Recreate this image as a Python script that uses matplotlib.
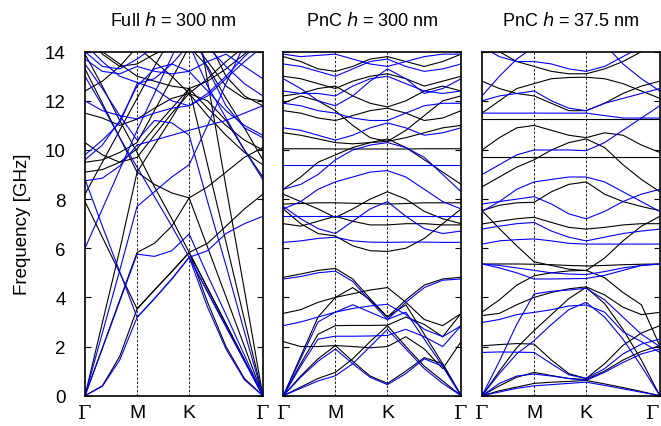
import numpy as np
import matplotlib.pyplot as plt

plt.rcParams['font.family'] = ['Liberation Sans', 'DejaVu Sans']

# k path: G - M - K - G, sampled at 11 points
L = np.sqrt(2)
kpts = [0, 1/3, 2/3, 1, 4/3, 5/3, 2, 2 + L/4, 2 + L/2, 2 + 3*L/4, 2 + L]
klabels = ['Γ', 'M', 'K', 'Γ']
titles = ["Full $h$ = 300 nm", "PnC $h$ = 300 nm", "PnC $h$ = 37.5 nm"]
nan = np.nan

# ---- panel 1: full plate h = 300 nm ----
full_black = [
    [0, 0.4, 1.6, 3.53, 4.3, 5.05, 5.83, 3.8, 2.0, 0.7, 0],
    [7.9, 6.45, 5.0, 3.53, 4.3, 5.05, 5.83, 4.37, 2.92, 1.46, 0],
    [0, 1.94, 3.89, 5.83, 6.2, 6.9, 8.05, 6.04, 4.03, 2.01, 0],
    [0, 2.97, 5.93, 9.1, 8.6, 8.25, 8.05, 8.5, 9.1, 9.7, 10.1],
    [13.9, 12.6, 11.2, 9.9, 8.5, 7.2, 5.83, 4.37, 2.92, 1.46, 0],
    [nan, nan, nan, nan, nan, nan, 17.0, 12.8, 8.5, 4.3, 0],
    [nan, nan, nan, nan, nan, nan, 5.83, 6.2, 6.9, 7.6, 8.2],
    [9.1, 9.2, 9.5, 10.05, 10.9, 11.7, 12.5, 11.7, 11.0, 10.4, 10.0],
    [13.3, 11.9, 10.5, 9.1, 10.2, 11.3, 12.5, 9.4, 6.25, 3.1, 0],
    [9.5, 9.6, 9.9, 10.3, 11.6, 12.9, 14.2, 13.4, 12.1, 10.9, 9.6],
    [11.5, 11.3, 11.0, 11.26, 11.7, 12.1, 12.3, 12.0, 11.2, 10.0, 8.9],
    [14.5, 14.0, 13.5, 13.0, 12.8, 12.6, 12.5, 12.8, 13.3, 13.9, 14.5],
    [8.2, 9.5, 10.8, 12.1, 13.4, 14.6, 15.8, 14.5, 13.0, 12.2, 11.8],
    [14.8, 13.9, 13.4, 13.5, 13.9, 14.2, 14.6, 13.6, 12.6, 12.1, 12.0],
    [12.4, 12.8, 13.4, 14.2, 13.6, 13.0, 12.3, 12.9, 13.6, 14.2, 14.8],
    [10.3, 9.8, 9.5, 9.7, 10.6, 11.5, 12.3, 11.4, 10.6, 9.9, 9.4],
]
full_blue = [
    [0, 0.38, 1.45, 3.19, 3.95, 4.75, 5.63, 3.6, 1.9, 0.65, 0],
    [8.8, 6.9, 5.05, 3.19, 3.95, 4.75, 5.63, 4.22, 2.81, 1.41, 0],
    [0, 1.92, 3.84, 5.76, 5.67, 5.9, 6.58, 4.9, 3.3, 1.65, 0],
    [0, 2.55, 5.1, 7.7, 8.3, 8.9, 9.4, 11.0, 12.7, 14.3, 15.9],
    [13.0, 11.8, 10.5, 9.3, 8.1, 6.9, 5.63, 4.22, 2.81, 1.41, 0],
    [13.5, 12.5, 11.4, 10.4, 11.2, 11.1, 10.6, 7.9, 5.3, 2.6, 0],
    [nan, nan, nan, nan, nan, nan, 5.63, 5.9, 6.6, 7.0, 7.3],
    [8.75, 8.85, 9.35, 10.2, 10.4, 10.6, 10.8, 11.0, 11.2, 11.5, 11.8],
    [12.0, 11.6, 11.4, 11.26, 11.5, 11.7, 11.8, 12.2, 12.9, 13.6, 14.2],
    [13.7, 13.2, 13.1, 13.4, 13.2, 13.1, 13.2, 13.6, 13.9, 13.4, 12.9],
    [9.8, 10.4, 11.1, 12.7, 12.9, 13.5, 14.3, 12.6, 11.3, 10.0, 8.8],
    [14.3, 13.6, 13.0, 12.75, 12.5, 12.0, 11.8, 12.3, 13.0, 13.8, 14.5],
    [6.0, 7.6, 9.2, 10.8, 12.3, 13.8, 15.3, 13.3, 11.8, 10.9, 10.5],
    [9.6, 10.2, 11.2, 12.6, 13.3, 13.5, 13.2, 12.4, 11.6, 11.0, 10.6],
    [14.0, 13.4, 13.3, 13.7, 14.2, 14.5, 14.8, 14.2, 13.4, 12.7, 12.2],
]

# ---- panel 2: PnC h = 300 nm ----
pnc300_black = [
    [0, 0.35, 0.7, 0.95, 1.5, 2.2, 2.85, 2.0, 1.2, 0.6, 0],
    [0, 0.8, 1.5, 2.04, 1.4, 0.8, 0.5, 1.0, 1.55, 1.3, 0],
    [0, 1.3, 2.5, 2.85, 2.86, 2.86, 2.87, 3.2, 2.9, 2.4, 3.35],
    [3.35, 3.5, 3.8, 4.0, 4.15, 4.3, 4.4, 3.8, 3.1, 2.85, 3.35],
    [0, 1.6, 3.2, 4.0, 4.4, 3.9, 3.2, 3.7, 2.5, 1.3, 0],
    [4.82, 4.95, 5.1, 5.18, 4.75, 3.95, 3.2, 3.9, 4.5, 4.75, 4.82],
    [2.2, 2.0, 2.0, 2.04, 2.0, 1.95, 2.0, 2.4, 1.9, 1.1, 2.2],
    [7.6, 7.0, 6.6, 6.5, 6.1, 5.9, 5.87, 6.0, 6.4, 7.0, 7.6],
    [7.0, 6.9, 7.1, 7.3, 7.1, 6.95, 6.95, 7.0, 7.0, 6.95, 6.95],
    [7.8, 7.82, 7.85, 7.85, 7.83, 7.82, 7.8, 7.82, 7.85, 7.85, 7.85],
    [8.2, 7.9, 7.6, 7.25, 7.6, 8.0, 8.3, 8.0, 7.5, 7.2, 7.0],
    [8.4, 8.9, 9.5, 9.8, 10.1, 10.3, 10.45, 10.1, 9.6, 9.1, 8.6],
    [10.05, 10.05, 10.05, 10.04, 10.04, 10.04, 10.04, 10.04, 10.05, 10.05, 10.05],
    [10.7, 10.6, 10.45, 10.3, 10.25, 10.3, 10.35, 10.5, 10.7, 10.9, 11.0],
    [11.6, 11.5, 11.3, 11.2, 11.4, 11.6, 11.7, 11.5, 11.2, 11.3, 11.6],
    [12.2, 12.3, 12.5, 12.6, 12.2, 11.9, 11.75, 12.0, 12.4, 12.6, 12.4],
    [13.0, 12.9, 12.7, 12.5, 12.8, 13.0, 13.1, 12.9, 12.6, 12.8, 13.0],
    [13.8, 13.6, 13.3, 13.2, 13.4, 13.7, 13.8, 13.6, 13.4, 13.6, 13.9],
    [11.9, 12.2, 12.0, 11.6, 11.0, 10.5, 10.35, 10.8, 11.4, 12.0, 12.2],
]
pnc300_blue = [
    [0, 0.3, 0.6, 0.81, 1.3, 2.0, 2.7, 1.9, 1.1, 0.5, 0],
    [0, 0.75, 1.4, 1.9, 1.3, 0.75, 0.45, 0.9, 1.5, 1.2, 0],
    [0, 1.2, 2.3, 2.42, 2.42, 2.43, 2.45, 2.7, 2.4, 2.0, 2.85],
    [2.85, 3.0, 3.2, 3.4, 3.55, 3.65, 3.72, 3.3, 2.7, 2.4, 2.85],
    [0, 1.5, 3.0, 3.4, 3.7, 3.4, 3.1, 3.4, 2.3, 1.2, 0],
    [4.75, 4.85, 5.0, 5.07, 4.65, 3.85, 3.1, 3.8, 4.4, 4.7, 4.75],
    [6.24, 6.3, 6.4, 6.45, 6.3, 6.25, 6.24, 6.25, 6.25, 6.24, 6.24],
    [7.33, 7.33, 7.33, 7.33, 7.33, 7.33, 7.33, 7.33, 7.33, 7.33, 7.33],
    [7.7, 7.2, 6.8, 6.6, 7.1, 7.6, 7.9, 7.3, 6.8, 6.6, 6.7],
    [7.6, 7.9, 8.4, 8.7, 8.9, 9.1, 9.16, 8.9, 8.4, 7.9, 7.6],
    [9.4, 9.4, 9.4, 9.4, 9.4, 9.4, 9.4, 9.4, 9.4, 9.4, 9.4],
    [8.4, 8.6, 9.0, 9.6, 10.0, 10.2, 10.3, 10.1, 9.7, 9.0, 8.3],
    [10.9, 10.8, 10.6, 10.4, 10.6, 10.9, 11.1, 10.9, 10.6, 10.7, 10.9],
    [11.9, 11.8, 11.6, 11.5, 11.3, 11.2, 11.2, 11.5, 11.8, 11.9, 11.9],
    [12.4, 12.3, 12.3, 12.2, 12.6, 12.9, 13.0, 12.7, 12.4, 12.3, 12.4],
    [13.5, 13.4, 13.2, 13.0, 13.3, 13.6, 13.7, 13.4, 13.2, 13.3, 13.5],
    [13.9, 13.8, 13.85, 13.9, 13.7, 13.5, 13.4, 13.6, 13.8, 13.9, 13.9],
    [12.9, 12.5, 12.0, 11.8, 12.2, 12.8, 13.3, 12.9, 12.3, 12.5, 12.9],
]

# ---- panel 3: PnC h = 37.5 nm ----
pnc37_black = [
    [0, 0.2, 0.35, 0.5, 0.55, 0.58, 0.62, 0.48, 0.33, 0.17, 0],
    [0, 0.4, 0.75, 0.95, 0.82, 0.7, 0.66, 1.0, 1.45, 1.8, 2.03],
    [2.03, 2.08, 2.12, 2.1, 1.45, 0.9, 0.7, 1.3, 2.05, 2.55, 2.85],
    [0, 1.0, 1.95, 2.65, 3.3, 3.95, 4.41, 3.75, 2.7, 1.45, 0],
    [3.26, 3.35, 3.7, 4.0, 4.2, 4.35, 4.43, 4.1, 3.6, 3.3, 3.39],
    [3.4, 3.9, 4.5, 4.88, 5.0, 5.08, 5.1, 4.8, 4.2, 3.7, 2.03],
    [5.36, 5.36, 5.36, 5.35, 5.33, 5.3, 5.28, 5.3, 5.33, 5.35, 5.36],
    [7.53, 6.8, 6.1, 5.45, 5.3, 5.15, 5.09, 5.6, 6.3, 6.9, 7.3],
    [6.99, 7.1, 7.2, 7.26, 7.05, 6.85, 6.78, 6.85, 6.95, 7.0, 7.0],
    [7.53, 7.75, 7.85, 7.87, 8.3, 8.6, 8.7, 8.2, 7.9, 7.7, 7.53],
    [9.73, 9.73, 9.73, 9.73, 9.73, 9.73, 9.73, 9.73, 9.73, 9.73, 9.73],
    [8.5, 8.9, 9.3, 9.6, 10.0, 10.3, 10.45, 10.1, 9.4, 8.8, 8.3],
    [11.26, 11.26, 11.26, 11.26, 11.26, 11.26, 11.26, 11.26, 11.26, 11.26, 11.26],
    [12.8, 12.5, 12.3, 12.2, 11.9, 11.6, 11.6, 11.9, 12.3, 12.6, 12.8],
    [11.5, 12.0, 12.5, 12.7, 12.9, 12.95, 12.96, 12.9, 12.7, 12.4, 12.1],
    [14.5, 14.0, 13.6, 13.4, 13.2, 13.1, 13.1, 13.3, 13.6, 14.0, 14.4],
    [10.0, 10.5, 10.9, 11.0, 10.8, 10.6, 10.5, 10.7, 10.6, 10.2, 9.9],
]
pnc37_blue = [
    [0, 0.15, 0.3, 0.4, 0.45, 0.5, 0.55, 0.42, 0.28, 0.14, 0],
    [0, 0.5, 0.8, 0.88, 0.8, 0.7, 0.62, 0.95, 1.35, 1.7, 1.9],
    [1.76, 1.78, 1.77, 1.76, 1.3, 0.85, 0.7, 1.1, 1.7, 2.1, 2.3],
    [0, 0.9, 1.7, 2.24, 2.9, 3.5, 3.8, 3.2, 2.3, 1.2, 0],
    [2.98, 3.1, 3.3, 3.39, 3.5, 3.65, 3.69, 3.4, 2.6, 2.2, 1.76],
    [0, 1.4, 2.9, 4.14, 4.25, 4.3, 4.37, 3.9, 3.2, 2.5, 2.0],
    [5.36, 5.2, 5.0, 4.75, 4.75, 4.76, 4.77, 4.9, 5.1, 5.3, 5.36],
    [5.36, 5.3, 5.2, 5.1, 5.0, 4.95, 4.93, 5.05, 5.2, 5.3, 5.36],
    [6.17, 6.3, 6.35, 6.38, 6.3, 6.2, 6.17, 6.17, 6.17, 6.17, 6.17],
    [6.78, 6.9, 7.0, 7.05, 6.7, 6.45, 6.3, 6.45, 6.6, 6.7, 6.78],
    [7.8, 7.9, 8.0, 8.1, 7.8, 7.4, 7.2, 7.5, 7.9, 8.2, 8.4],
    [7.5, 7.9, 8.4, 8.7, 8.8, 8.9, 8.9, 8.7, 8.3, 7.9, 7.5],
    [9.0, 9.4, 9.8, 10.0, 10.0, 10.0, 9.97, 10.3, 10.8, 11.3, 11.8],
    [11.5, 11.5, 11.5, 11.5, 11.5, 11.5, 11.5, 11.4, 11.3, 11.3, 11.3],
    [12.0, 12.2, 12.3, 12.4, 12.0, 11.7, 11.6, 11.9, 12.1, 12.3, 12.5],
    [14.2, 13.8, 13.6, 13.6, 13.5, 13.3, 13.2, 13.4, 13.8, 14.2, 14.6],
    [12.2, 13.0, 13.7, 14.2, 14.5, 14.8, 15.0, 14.3, 13.5, 12.9, 12.4],
]

panels = [(full_black, full_blue), (pnc300_black, pnc300_blue), (pnc37_black, pnc37_blue)]

fig = plt.figure(figsize=(6.61, 4.27), dpi=100)
lefts = [0.1286, 0.4286, 0.7292]

for i, (blk, blu) in enumerate(panels):
    ax = fig.add_axes([lefts[i], 0.071, 0.2690, 0.8056])
    for b in blk:
        ax.plot(kpts, b, color='black', lw=0.8)
    for b in blu:
        ax.plot(kpts, b, color='#0000ff', lw=0.8)
    for xv in [1, 2]:
        ax.axvline(xv, color='black', lw=0.6, ls=(0, (3, 2)))
    ax.set_xlim(0, 2 + L)
    ax.set_ylim(0, 14)
    ax.set_yticks(range(0, 15, 2))
    ax.tick_params(axis='y', direction='in', length=4, left=True, right=True,
                   labelsize=13.5, width=0.8, pad=14)
    if i > 0:
        ax.set_yticklabels([])
    ax.set_xticks([0, 1, 2, 2 + L])
    ax.set_xticklabels(klabels, fontsize=14)
    ax.tick_params(axis='x', length=0, pad=6)
    for t, lab in zip(ax.get_xticklabels(), klabels):
        if lab == 'Γ':
            t.set_fontfamily('DejaVu Serif')
    if i == 2:
        ax.get_xticklabels()[-1].set_ha('right')
    for s in ax.spines.values():
        s.set_linewidth(1.2)
    ax.set_title(titles[i], fontsize=13, pad=19)
    if i == 0:
        ax.set_ylabel('Frequency [GHz]', fontsize=13.5, labelpad=10)

fig.savefig('out.png', dpi=100)
